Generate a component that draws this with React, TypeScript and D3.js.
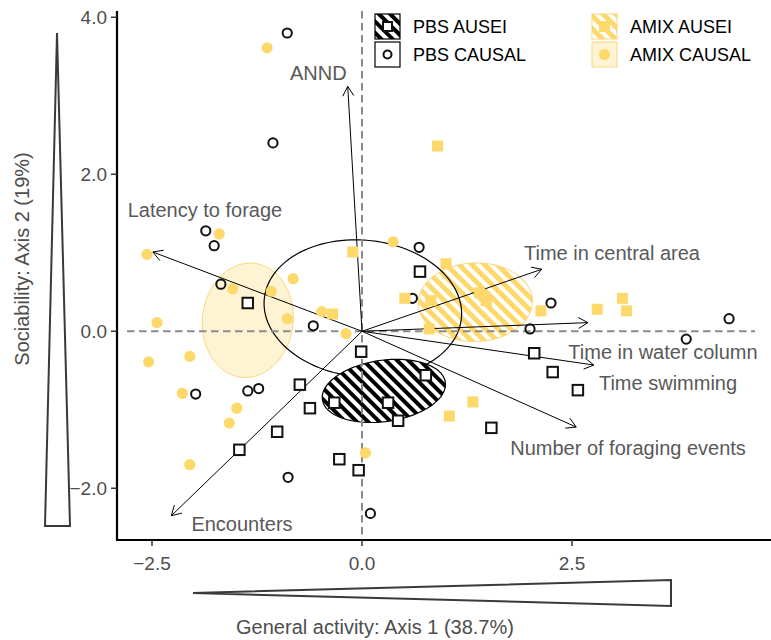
import * as d3 from 'd3';

type Pt = [number, number];

const xTicks = [-2.5, 0, 2.5];
const yTicks = [-2, 0, 2, 4];

// individual scores (axis 1, axis 2)
const pbsAusei: Pt[] = [
  [-1.36, 0.36], [-0.74, -0.68], [-0.62, -0.98], [-1.01, -1.28], [-1.46, -1.51],
  [-0.27, -1.63], [-0.04, -1.77], [-0.33, -0.91], [0.31, -0.91], [0.43, -1.14],
  [-0.01, -0.26], [0.69, 0.76], [0.76, -0.56], [2.05, -0.28], [2.27, -0.52],
  [1.54, -1.23], [2.57, -0.75],
];

const pbsCausal: Pt[] = [
  [-0.89, 3.8], [-1.06, 2.4], [-1.86, 1.28], [-1.76, 1.09], [-1.68, 0.6],
  [-0.58, 0.07], [-1.98, -0.8], [-1.36, -0.76], [-1.23, -0.73], [-0.88, -1.86],
  [0.1, -2.32], [0.68, 1.07], [0.6, 0.42], [2.25, 0.36], [2.0, 0.03],
  [3.86, -0.1], [4.37, 0.16],
];

const amixAusei: Pt[] = [
  [-0.35, 0.22], [-0.11, 1.01], [1.0, 0.86], [0.51, 0.42], [0.82, 0.39],
  [1.48, 0.39], [1.4, 0.49], [0.8, 0.03], [2.13, 0.26], [1.32, -0.9],
  [1.04, -1.08], [0.9, 2.36], [2.8, 0.28], [3.1, 0.42], [3.15, 0.26],
];

const amixCausal: Pt[] = [
  [-1.13, 3.61], [-1.7, 1.24], [-2.56, 0.98], [-0.82, 0.67], [-1.54, 0.54],
  [-1.08, 0.51], [-0.89, 0.16], [-0.48, 0.25], [-0.19, -0.03], [-2.44, 0.11],
  [-2.54, -0.39], [-2.05, -0.32], [-2.14, -0.79], [-1.49, -0.98], [-1.58, -1.17],
  [-2.05, -1.7], [0.04, -1.55], [0.37, 1.14],
];

// variable loadings: arrow tip and label centre, in axis units
const loadings = [
  { label: 'ANND', x: -0.17, y: 3.12, lx: -0.52, ly: 3.29 },
  { label: 'Latency to forage', x: -2.49, y: 1.01, lx: -1.87, ly: 1.545 },
  { label: 'Time in central area', x: 2.14, y: 0.79, lx: 2.976, ly: 0.997 },
  { label: 'Time in water column', x: 2.69, y: 0.11, lx: 3.583, ly: -0.264 },
  { label: 'Time swimming', x: 2.76, y: -0.43, lx: 3.643, ly: -0.659 },
  { label: 'Number of foraging events', x: 2.55, y: -1.22, lx: 3.167, ly: -1.487 },
  { label: 'Encounters', x: -2.27, y: -2.35, lx: -1.429, ly: -2.455 },
];

// confidence ellipses: centre, semi-axes, rotation (deg)
const ellipses = [
  { key: 'amixCausal', cx: -1.36, cy: 0.14, a: 0.54, b: 0.73, angle: -5 },
  { key: 'amixAusei', cx: 1.35, cy: 0.37, a: 0.68, b: 0.5, angle: 2 },
  { key: 'pbsCausal', cx: 0.01, cy: 0.29, a: 1.18, b: 0.87, angle: -7 },
  { key: 'pbsAusei', cx: 0.26, cy: -0.76, a: 0.74, b: 0.39, angle: 9 },
];

const yellow = '#FDD86B';
const paleYellow = '#FEF3D3';
const grey = '#4D4D4D';
const font = '"Liberation Sans", Arial, Helvetica, sans-serif';

const ellipseStyle: Record<string, { fill: string; stroke: string; width: number }> = {
  amixCausal: { fill: paleYellow, stroke: '#F8D67C', width: 1 },
  amixAusei: { fill: 'url(#hatchYellow)', stroke: '#F8D67C', width: 1 },
  pbsCausal: { fill: 'none', stroke: '#000', width: 1.2 },
  pbsAusei: { fill: 'url(#hatchBlack)', stroke: '#000', width: 1.2 },
};

const legendItems = [
  { label: 'PBS AUSEI', col: 0, row: 0, kind: 'pbsAusei' },
  { label: 'PBS CAUSAL', col: 0, row: 1, kind: 'pbsCausal' },
  { label: 'AMIX AUSEI', col: 1, row: 0, kind: 'amixAusei' },
  { label: 'AMIX CAUSAL', col: 1, row: 1, kind: 'amixCausal' },
];

export default function App() {
  const width = 771;
  const height = 640;
  const panel = { left: 117, right: 771, top: 11, bottom: 540 };

  const x = d3.scaleLinear().domain([-2.9167, 4.869]).range([panel.left, panel.right]);
  const y = d3.scaleLinear().domain([-2.659, 4.08]).range([panel.bottom, panel.top]);
  const fmt = d3.format('.1f');

  const line = d3.line<Pt>().curve(d3.curveLinearClosed);
  const ellipsePath = (e: (typeof ellipses)[number]) => {
    const t = (e.angle * Math.PI) / 180;
    const pts: Pt[] = d3.range(0, 120).map((i) => {
      const p = (i / 120) * 2 * Math.PI;
      const ex = e.a * Math.cos(p);
      const ey = e.b * Math.sin(p);
      return [
        x(e.cx + ex * Math.cos(t) - ey * Math.sin(t)),
        y(e.cy + ex * Math.sin(t) + ey * Math.cos(t)),
      ];
    });
    return line(pts) ?? '';
  };

  const ox = x(0);
  const oy = y(0);
  const headLen = 11;
  const headAng = Math.PI / 6;

  const sq = 10.5;

  return (
    <svg
      width={width}
      height={height}
      style={{ position: 'absolute', left: 0, top: 0, background: '#fff' }}
      fontFamily={font}
    >
      <defs>
        <pattern id="hatchBlack" width={8} height={8} patternUnits="userSpaceOnUse" patternTransform="rotate(-45)">
          <rect width={8} height={8} fill="#fff" />
          <rect width={4} height={8} fill="#000" />
        </pattern>
        <pattern id="hatchYellow" width={9} height={9} patternUnits="userSpaceOnUse" patternTransform="rotate(-45)">
          <rect width={9} height={9} fill="#fff" />
          <rect width={5} height={9} fill={yellow} />
        </pattern>
        <clipPath id="panelClip">
          <rect x={panel.left} y={panel.top} width={panel.right - panel.left} height={panel.bottom - panel.top} />
        </clipPath>
      </defs>

      <rect width={width} height={height} fill="#fff" />

      <g clipPath="url(#panelClip)">
        {ellipses.map((e) => {
          const s = ellipseStyle[e.key];
          return <path key={e.key} d={ellipsePath(e)} fill={s.fill} stroke={s.stroke} strokeWidth={s.width} />;
        })}

        {/* reference lines */}
        <line
          x1={panel.left + 10}
          x2={panel.right - 16}
          y1={oy}
          y2={oy}
          stroke="#8a8a8a"
          strokeWidth={2}
          strokeDasharray="7.5,4.5"
        />
        <line
          x1={ox}
          x2={ox}
          y1={panel.top}
          y2={panel.bottom}
          stroke="#8a8a8a"
          strokeWidth={2}
          strokeDasharray="7.5,4.5"
        />

        {loadings.map((d) => {
          const tx = x(d.x);
          const ty = y(d.y);
          const ang = Math.atan2(ty - oy, tx - ox);
          const h1 = [tx - headLen * Math.cos(ang - headAng), ty - headLen * Math.sin(ang - headAng)];
          const h2 = [tx - headLen * Math.cos(ang + headAng), ty - headLen * Math.sin(ang + headAng)];
          return (
            <g key={d.label} stroke="#000" strokeWidth={1} fill="none">
              <line x1={ox} y1={oy} x2={tx} y2={ty} />
              <path d={`M${h1[0]},${h1[1]}L${tx},${ty}L${h2[0]},${h2[1]}`} />
            </g>
          );
        })}

        {pbsAusei.map((d, i) => (
          <rect
            key={`pa${i}`}
            x={x(d[0]) - sq / 2}
            y={y(d[1]) - sq / 2}
            width={sq}
            height={sq}
            fill="#fff"
            stroke="#111"
            strokeWidth={2}
          />
        ))}
        {pbsCausal.map((d, i) => (
          <circle key={`pc${i}`} cx={x(d[0])} cy={y(d[1])} r={4.6} fill="none" stroke="#111" strokeWidth={2} />
        ))}
        {amixAusei.map((d, i) => (
          <rect
            key={`aa${i}`}
            x={x(d[0]) - 5.5}
            y={y(d[1]) - 5.5}
            width={11}
            height={11}
            fill={yellow}
          />
        ))}
        {amixCausal.map((d, i) => (
          <circle key={`ac${i}`} cx={x(d[0])} cy={y(d[1])} r={5.6} fill={yellow} />
        ))}

        {loadings.map((d) => (
          <text
            key={`t${d.label}`}
            x={x(d.lx)}
            y={y(d.ly)}
            dy="0.35em"
            textAnchor="middle"
            fontSize={20}
            fill="#595959"
          >
            {d.label}
          </text>
        ))}
      </g>

      {/* axes */}
      <line x1={panel.left} x2={panel.left} y1={panel.top} y2={panel.bottom + 1} stroke="#000" strokeWidth={2.2} />
      <line x1={panel.left - 1} x2={panel.right} y1={panel.bottom} y2={panel.bottom} stroke="#000" strokeWidth={2.2} />
      {yTicks.map((t) => (
        <g key={`y${t}`}>
          <line x1={panel.left - 6} x2={panel.left} y1={y(t)} y2={y(t)} stroke="#333" strokeWidth={1.5} />
          <text x={panel.left - 10} y={y(t)} dy="0.35em" textAnchor="end" fontSize={19} fill={grey}>
            {fmt(t)}
          </text>
        </g>
      ))}
      {xTicks.map((t) => (
        <g key={`x${t}`}>
          <line x1={x(t)} x2={x(t)} y1={panel.bottom} y2={panel.bottom + 6} stroke="#333" strokeWidth={1.5} />
          <text x={x(t)} y={panel.bottom + 23} dy="0.35em" textAnchor="middle" fontSize={19} fill={grey}>
            {fmt(t)}
          </text>
        </g>
      ))}

      {/* axis titles with wedges */}
      <path d="M193,593L671,580L671,606Z" fill="#fff" stroke="#3a3a3a" strokeWidth={2} />
      <text x={375} y={627} dy="0.35em" textAnchor="middle" fontSize={20} fill={grey}>
        General activity: Axis 1 (38.7%)
      </text>
      <path d="M57,33L70,526L45,526Z" fill="#fff" stroke="#3a3a3a" strokeWidth={2} />
      <text
        transform="translate(22,259) rotate(-90)"
        dy="0.35em"
        textAnchor="middle"
        fontSize={20}
        fill={grey}
      >
        Sociability: Axis 2 (19%)
      </text>

      {/* legend */}
      {legendItems.map((d) => {
        const kx = d.col === 0 ? 375 : 592;
        const ky = 14 + d.row * 28;
        const k = 25;
        const cx = kx + k / 2;
        const cy = ky + k / 2;
        let key;
        if (d.kind === 'pbsAusei') {
          key = (
            <>
              <rect x={kx} y={ky} width={k} height={k} fill="url(#hatchBlack)" stroke="#000" strokeWidth={1.2} />
              <rect x={cx - 4.5} y={cy - 4.5} width={9} height={9} fill="#fff" stroke="#111" strokeWidth={2} />
            </>
          );
        } else if (d.kind === 'pbsCausal') {
          key = (
            <>
              <rect x={kx} y={ky} width={k} height={k} fill="#fff" stroke="#000" strokeWidth={1.2} />
              <circle cx={cx} cy={cy} r={4} fill="none" stroke="#111" strokeWidth={2} />
            </>
          );
        } else if (d.kind === 'amixAusei') {
          key = (
            <>
              <rect x={kx} y={ky} width={k} height={k} fill="url(#hatchYellow)" stroke="#F8D67C" strokeWidth={1} />
              <rect x={cx - 5.5} y={cy - 5.5} width={11} height={11} fill={yellow} />
            </>
          );
        } else {
          key = (
            <>
              <rect x={kx} y={ky} width={k} height={k} fill={paleYellow} stroke="#F8D67C" strokeWidth={1} />
              <circle cx={cx} cy={cy} r={5.5} fill={yellow} />
            </>
          );
        }
        return (
          <g key={d.label}>
            {key}
            <text x={kx + 38} y={cy} dy="0.35em" fontSize={18} fill="#000">
              {d.label}
            </text>
          </g>
        );
      })}
    </svg>
  );
}
